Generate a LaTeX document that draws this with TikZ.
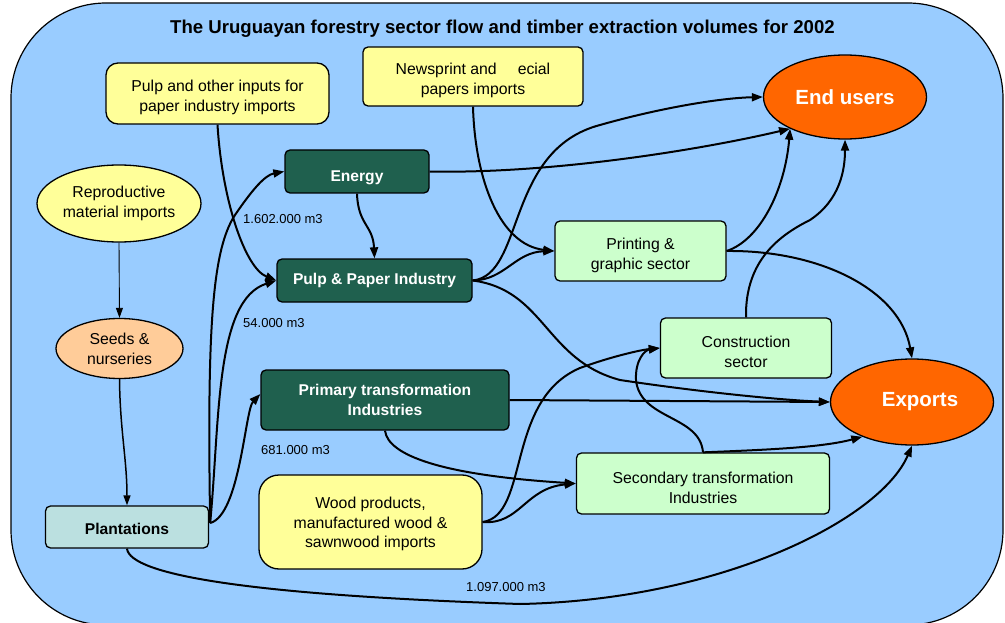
\documentclass[tikz,border=0pt]{standalone}
\usepackage{fontspec}
\setmainfont{Liberation Sans}
\usetikzlibrary{arrows.meta,shapes.geometric,calc}
\definecolor{bgblue}{HTML}{99CCFF}
\definecolor{pyellow}{HTML}{FFFF99}
\definecolor{dgreen}{HTML}{1F604E}
\definecolor{lgreen}{HTML}{CCFFCC}
\definecolor{peach}{HTML}{FFCC99}
\definecolor{lcyan}{HTML}{BBE0E0}
\definecolor{orng}{HTML}{FF6600}
\newcommand{\tpad}{\rule{0pt}{19.5pt}}
\newcommand{\epad}{\rule{0pt}{23pt}}
\begin{document}
\begin{tikzpicture}[x=1pt,y=-1pt,
  box/.style={draw=black,line width=1.3pt,rounded corners=5pt,align=center,inner sep=0pt,font=\fontsize{15.8}{20}\selectfont},
  ybox/.style={box,fill=pyellow},
  dbox/.style={box,fill=dgreen,text=white,font=\fontsize{15.6}{20}\selectfont\bfseries},
  gbox/.style={box,fill=lgreen},
  oval/.style={ellipse,draw=black,line width=1.3pt,align=center,inner sep=0pt,font=\fontsize{15.8}{20}\selectfont},
  flow/.style={line width=2pt,-{Triangle[length=11pt,width=8pt]}},
  thinflow/.style={line width=0.9pt,-{Triangle[length=10pt,width=7pt]}},
  lbl/.style={anchor=west,inner sep=0pt,font=\fontsize{13}{15}\selectfont}
]
\useasboundingbox (0,0) rectangle (1005,623);
\clip (0,0) rectangle (1005,623);
\draw[line width=1.2pt,fill=bgblue,rounded corners=95pt] (11,3) rectangle (1003,625);

\node[font=\fontsize{18.6}{22}\selectfont\bfseries] (title) at (502.5,28.5)
  {The Uruguayan forestry sector flow and timber extraction volumes for 2002};

% nodes
\node[ybox,rounded corners=12pt,minimum width=223pt,minimum height=61pt] (pulpin) at (217.5,93.5)
  {\tpad Pulp and other inputs for\\paper industry imports};
\node[ybox,minimum width=220pt,minimum height=59pt] (news) at (473,76.5)
  {\tpad Newsprint and \phantom{sp}ecial\\papers imports};
\node[oval,fill=pyellow,minimum width=164pt,minimum height=77pt] (repro) at (119,203.5)
  {Reproductive\\material imports};
\node[oval,fill=peach,minimum width=127pt,minimum height=60pt] (seeds) at (119.5,348.5)
  {Seeds \&\\nurseries};
\node[box,fill=lcyan,font=\fontsize{15.6}{20}\selectfont\bfseries,minimum width=163pt,minimum height=42pt] (plant) at (127,527)
  {\rule{0pt}{15pt}Plantations};
\node[dbox,minimum width=144pt,minimum height=43pt] (energy) at (357,171.5) {\epad Energy};
\node[dbox,minimum width=195pt,minimum height=43pt] (pulppaper) at (374.5,280.5) {Pulp \& Paper Industry};
\node[dbox,minimum width=248pt,minimum height=60pt] (primary) at (385,400)
  {Primary transformation\\Industries};
\node[gbox,minimum width=171pt,minimum height=60pt] (printing) at (640.5,251)
  {\tpad Printing \&\\graphic sector};
\node[gbox,minimum width=171pt,minimum height=60pt] (constr) at (746,348)
  {\tpad Construction\\sector};
\node[gbox,minimum width=253pt,minimum height=61pt] (second) at (703,483.5)
  {\tpad Secondary transformation\\Industries};
\node[ybox,rounded corners=20pt,minimum width=223pt,minimum height=94pt,font=\fontsize{15.8}{19.5}\selectfont] (wood) at (370.5,522)
  {\rule{0pt}{16pt}Wood products,\\manufactured wood \&\\sawnwood imports};
\node[oval,fill=orng,text=white,font=\fontsize{20.5}{24}\selectfont\bfseries,minimum width=163pt,minimum height=84pt] (endusers) at (845,97) {End users};
\node[oval,fill=orng,text=white,font=\fontsize{20.5}{24}\selectfont\bfseries,minimum width=163pt,minimum height=86pt] (exports) at (912,402) {\hspace*{16pt}Exports};

% labels
\node[lbl] (l1) at (243,219) {1.602.000 m3};
\node[lbl] (l2) at (243,323) {54.000 m3};
\node[lbl] (l3) at (261,450) {681.000 m3};
\node[lbl] (l4) at (466,587) {1.097.000 m3};

\coordinate (pout) at ($(plant.east)+(1,-4)$);

% connectors
\draw[flow] (pulpin.south) .. controls (222,200) and (245,268) .. (pulppaper.west);
\draw[flow] (news.south) .. controls (475,180) and (500,245) .. (printing.west);
\draw[thinflow] (repro.south) -- (seeds.north);
\draw[line width=1.5pt,-{Triangle[length=10pt,width=7pt]}] (seeds.south) .. controls (120,430) and (127,460) .. (plant.north);
\draw[flow] (pout) .. controls (207,330) and (212,250) .. (235,215) .. controls (252,190) and (265,175) .. (energy.west);
\draw[flow] (pout) .. controls (220,420) and (215,300) .. (pulppaper.west);
\draw[flow] (pout) .. controls (240,515) and (245,410) .. ($(primary.west)+(0,-6)$);
\draw[flow] (plant.south) .. controls (130,575) and (250,595) .. (520,604) .. controls (720,600) and (880,520) .. (exports.south);
\draw[flow] (energy.east) .. controls (550,174) and (700,150) .. (endusers.210);
\draw[flow] (energy.south) .. controls (358,225) and (373,225) .. (pulppaper.north);
\draw[flow] (pulppaper.east) .. controls (525,275) and (505,150) .. (600,125) .. controls (660,108) and (720,98) .. (endusers.west);
\draw[flow] (pulppaper.east) .. controls (505,280) and (515,252) .. (printing.west);
\draw[flow] (pulppaper.east) .. controls (545,290) and (545,360) .. (620,380) .. controls (700,392) and (780,400) .. (exports.west);
\draw[flow] (primary.east) -- (exports.west);
\draw[flow] (primary.south) .. controls (388,455) and (440,475) .. (second.west);
\draw[flow] (wood.east) .. controls (530,515) and (505,400) .. (580,368) .. controls (610,357) and (640,350) .. (constr.west);
\draw[flow] (wood.east) .. controls (520,525) and (525,488) .. (second.west);
\draw[flow] (printing.east) .. controls (760,240) and (785,190) .. (endusers.210);
\draw[flow] (printing.east) .. controls (820,250) and (900,290) .. (exports.north);
\draw[flow] (constr.north) .. controls (745,260) and (780,235) .. (810,220) .. controls (840,200) and (845,170) .. (endusers.south);
\draw[flow] (second.north) .. controls (700,415) and (640,420) .. (636,380) .. controls (635,360) and (645,350) .. (constr.west);
\draw[flow] (second.north) .. controls (760,450) and (820,448) .. (exports.215);
\end{tikzpicture}
\end{document}
